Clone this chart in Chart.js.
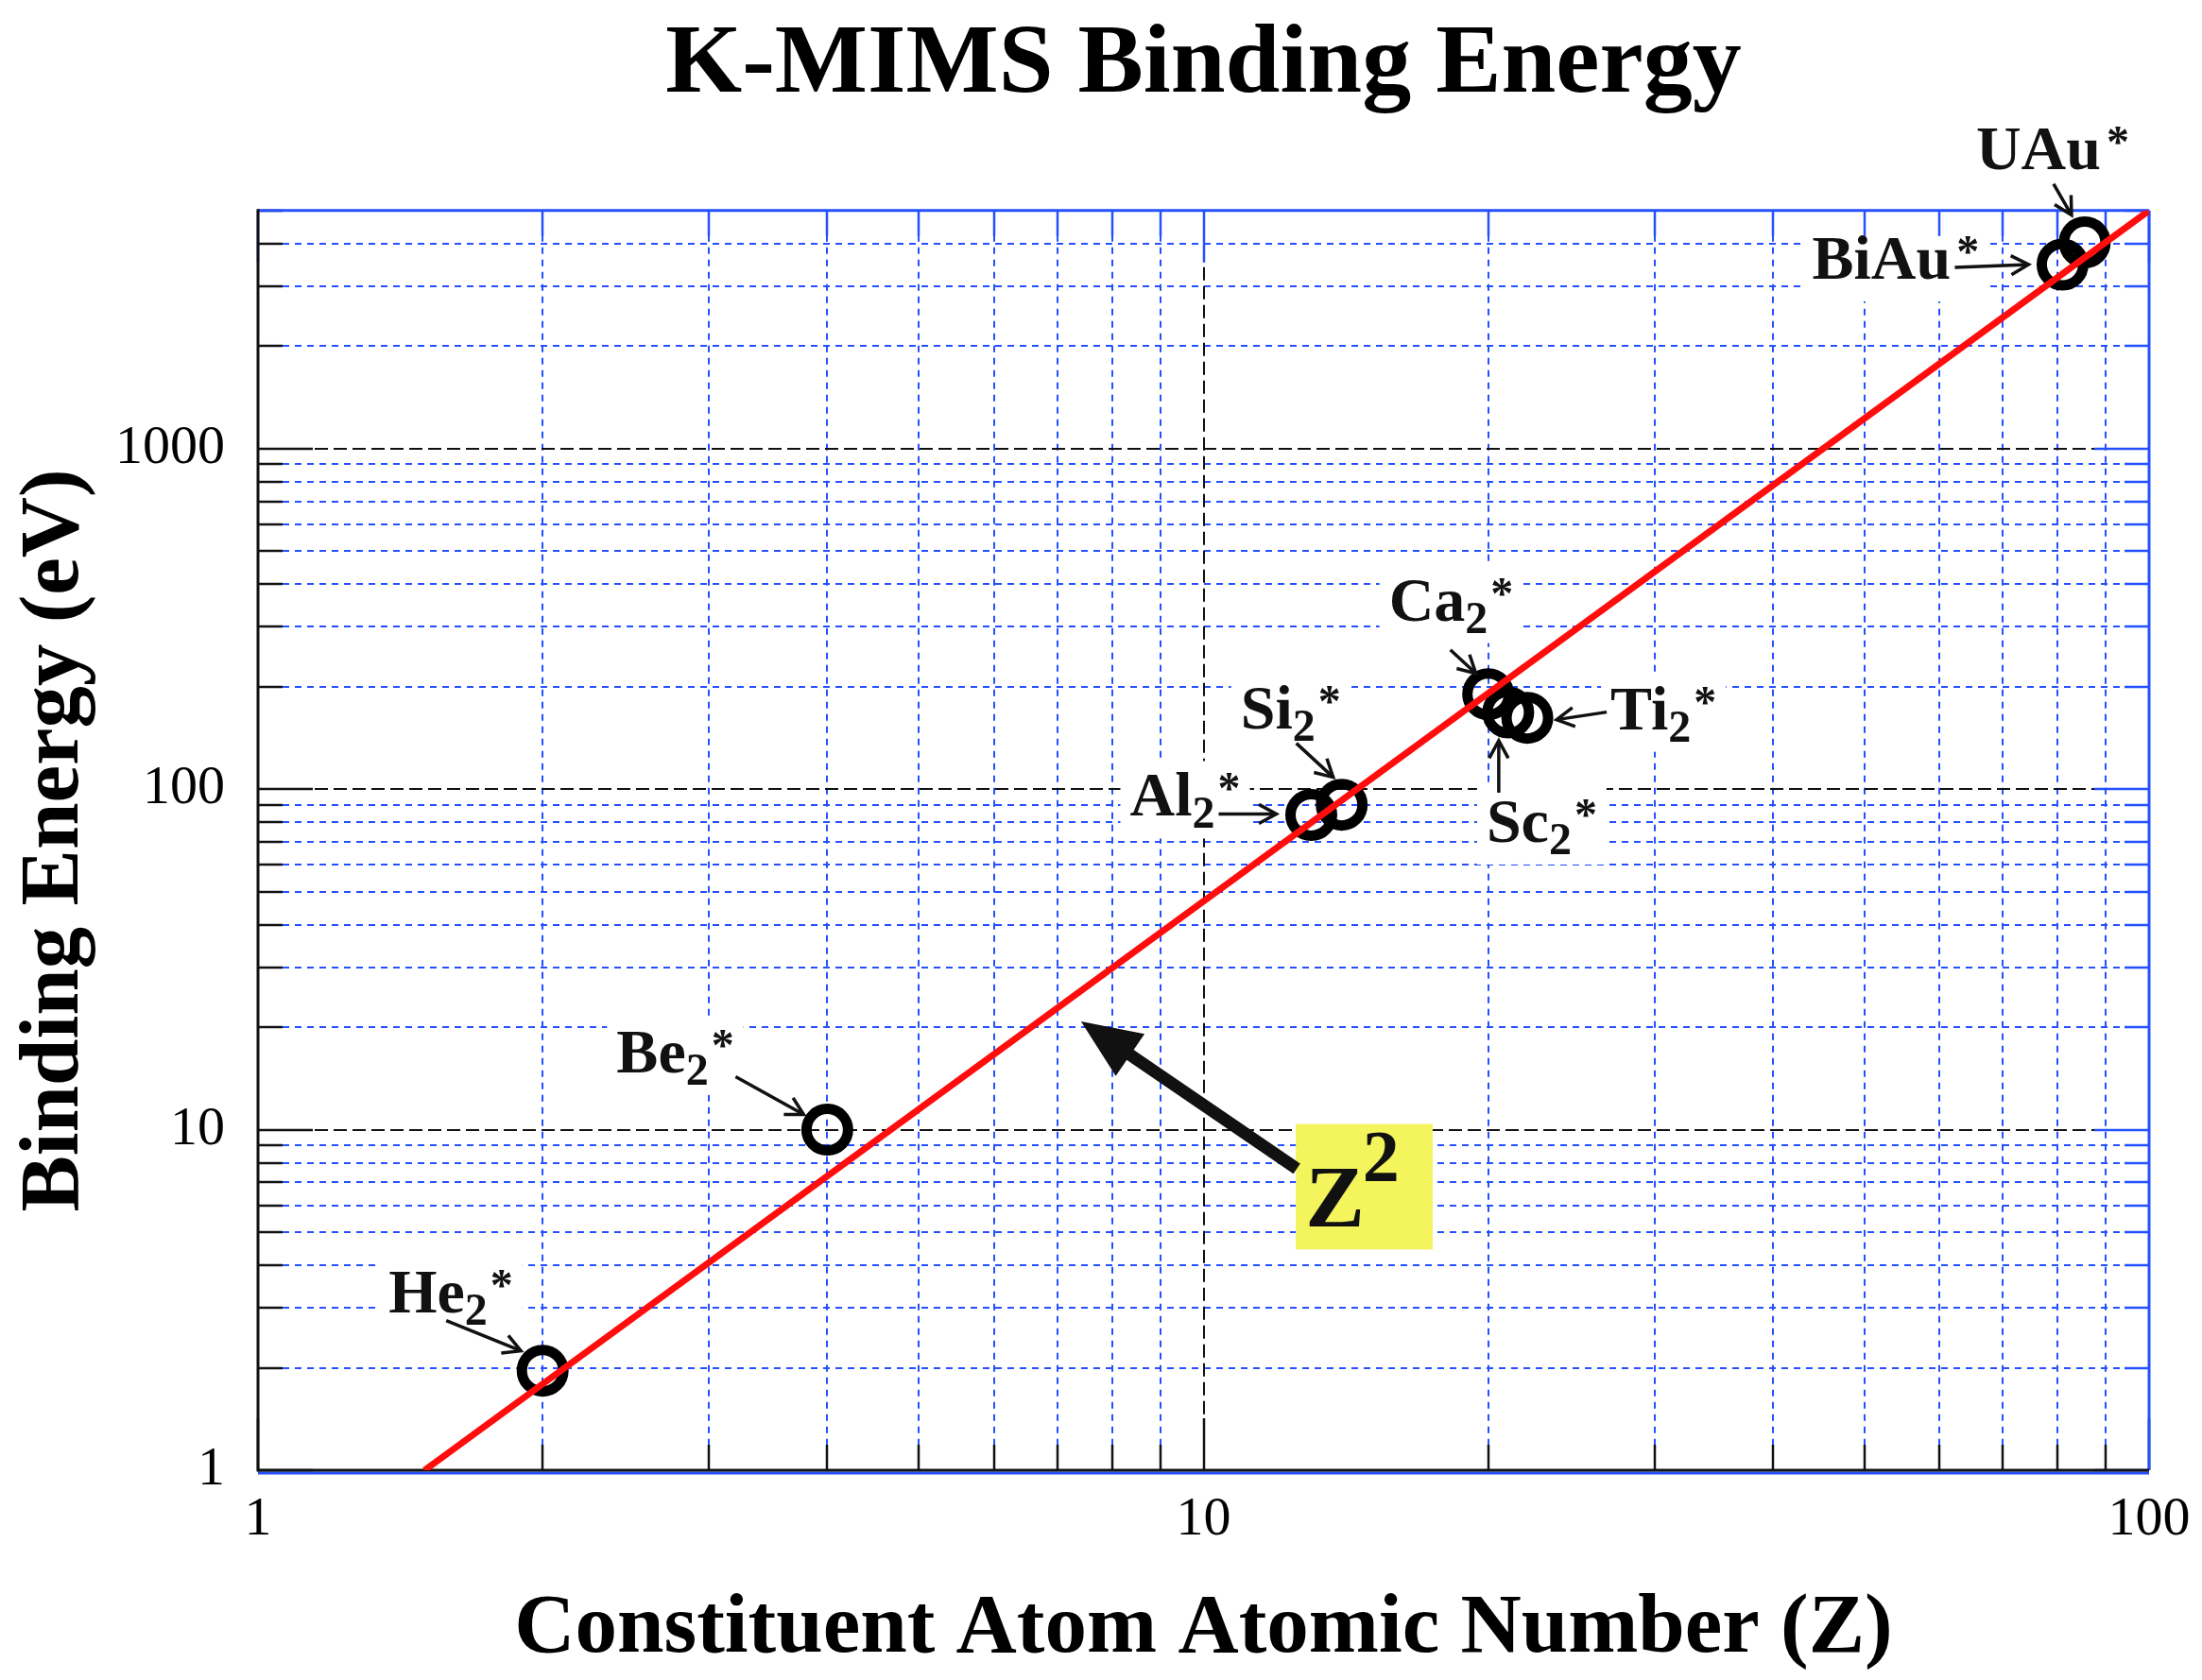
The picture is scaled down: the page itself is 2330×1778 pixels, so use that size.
<!DOCTYPE html>
<html>
<head>
<meta charset="utf-8">
<title>K-MIMS Binding Energy</title>
<script src="https://cdn.jsdelivr.net/npm/chart.js@4.4.1/dist/chart.umd.min.js"></script>
<style>
  html, body { margin: 0; padding: 0; background: #fff; }
  canvas { display: block; }
</style>
</head>
<body>
<canvas id="bindingChart" width="2330" height="1778"></canvas>
<script>
// data
const labelMain = ["He", "Be", "Al", "Si", "Ca", "Sc", "Ti", "BiAu", "UAu"];
const labelSub = ["2", "2", "2", "2", "2", "2", "2", "", ""];
const atomicNumber = [2, 4, 13, 14, 20, 21, 22, 81, 85.5];
const bindingEnergy = [1.96, 10, 84, 90, 190, 168, 162, 3470, 4030];

// Z^2 guide line end points
const fitZ = [1.5, 100];
const fitEnergy = [1, 5000];

// axis ticks
const xTickValues = [1, 2, 3, 4, 5, 6, 7, 8, 9, 10, 20, 30, 40, 50, 60, 70, 80, 90, 100];
const yTickValues = [1, 2, 3, 4, 5, 6, 7, 8, 9, 10, 20, 30, 40, 50, 60, 70, 80, 90,
  100, 200, 300, 400, 500, 600, 700, 800, 900, 1000, 2000, 3000, 4000, 5000];
const xTickLabels = [1, 10, 100];
const yTickLabels = [1, 10, 100, 1000];

// where each label sits relative to its circle (pixels): text origin, arrow start, arrow end
const labelLayout = [
  { dx: -163, dy: -62, ax: -102, ay: -53, bx: -23, by: -21 },
  { dx: -223, dy: -61, ax: -97, ay: -56, bx: -25, by: -16 },
  { dx: -192, dy: 1, ax: -98, ay: -1, bx: -37, by: -1 },
  { dx: -107, dy: -81, ax: -48, ay: -65, bx: -9, by: -29 },
  { dx: -105, dy: -78, ax: -40, ay: -47, bx: -13, by: -22 },
  { dx: -23, dy: 137, ax: -10, ay: 85, bx: -10, by: 30 },
  { dx: 88, dy: 12, ax: 84, ay: -6, bx: 31, by: 2 },
  { dx: -265, dy: 15, ax: -114, ay: 3, bx: -36, by: 0 },
  { dx: -115, dy: -78, ax: -33, ay: -62, bx: -14, by: -29 }
];

// Z^2 call-out, in data units
const zBox = { x0: 12.52, x1: 17.47, y0: 10.39, y1: 4.45 };
const zArrow = { fromX: 12.55, fromY: 7.68, toX: 7.42, toY: 20.8 };

const SERIF = "'Liberation Serif', 'Times New Roman', serif";
const BLUE = "#2450ff";
const INK = "#111";

function isDecade(v) {
  const l = Math.log10(v);
  return Math.abs(l - Math.round(l)) < 1e-9;
}

function seg(ctx, x0, y0, x1, y1) {
  ctx.beginPath();
  ctx.moveTo(x0, y0);
  ctx.lineTo(x1, y1);
  ctx.stroke();
}

function labelBox(chart, i) {
  const { ctx, scales: { x, y } } = chart;
  const px = x.getPixelForValue(atomicNumber[i]);
  const py = y.getPixelForValue(bindingEnergy[i]);
  const L = labelLayout[i];
  const lx = px + L.dx, ly = py + L.dy;
  ctx.save();
  ctx.font = "bold 66px " + SERIF;
  let w = ctx.measureText(labelMain[i]).width;
  ctx.font = "bold 48px " + SERIF;
  if (labelSub[i]) w += ctx.measureText(labelSub[i]).width + 3;
  else w += 6;
  w += ctx.measureText("*").width;
  ctx.restore();
  return { px, py, lx, ly, w, L };
}

function thinArrow(ctx, x0, y0, x1, y1) {
  const ang = Math.atan2(y1 - y0, x1 - x0);
  const hl = 21, sp = 0.5;
  ctx.lineWidth = 3.5;
  ctx.strokeStyle = INK;
  seg(ctx, x0, y0, x1, y1);
  ctx.beginPath();
  ctx.moveTo(x1 - hl * Math.cos(ang - sp), y1 - hl * Math.sin(ang - sp));
  ctx.lineTo(x1, y1);
  ctx.lineTo(x1 - hl * Math.cos(ang + sp), y1 - hl * Math.sin(ang + sp));
  ctx.stroke();
}

const gridPlugin = {
  id: "gridFrame",
  beforeDatasetsDraw(chart) {
    const { ctx, chartArea: a, scales: { x, y } } = chart;
    ctx.save();
    ctx.lineWidth = 2;

    // ➤ minor grid (blue dotted)
    ctx.strokeStyle = BLUE;
    ctx.setLineDash([7, 6]);
    x.ticks.forEach(t => {
      if (isDecade(t.value)) return;
      const p = Math.round(x.getPixelForValue(t.value));
      seg(ctx, p, a.top, p, a.bottom);
    });
    y.ticks.forEach(t => {
      if (isDecade(t.value) || t.value === y.max) return;
      const p = Math.round(y.getPixelForValue(t.value));
      seg(ctx, a.left, p, a.right, p);
    });

    // ➤ decade grid (black dashed)
    ctx.strokeStyle = INK;
    ctx.setLineDash([14, 6]);
    x.ticks.forEach(t => {
      if (!isDecade(t.value) || t.value === x.min || t.value === x.max) return;
      const p = Math.round(x.getPixelForValue(t.value));
      seg(ctx, p, a.top, p, a.bottom);
    });
    y.ticks.forEach(t => {
      if (!isDecade(t.value) || t.value === y.min) return;
      const p = Math.round(y.getPixelForValue(t.value));
      seg(ctx, a.left, p, a.right, p);
    });
    ctx.setLineDash([]);

    // ➤ white patches behind the labels
    ctx.fillStyle = "#fff";
    labelMain.forEach((_, i) => {
      const b = labelBox(chart, i);
      ctx.fillRect(b.lx - 10, b.ly - 58, b.w + 20, 82);
    });

    // ➤ ticks
    ctx.lineWidth = 2.5;
    y.ticks.forEach(t => {
      const p = Math.round(y.getPixelForValue(t.value));
      const len = isDecade(t.value) ? 58 : 26;
      ctx.strokeStyle = INK;
      seg(ctx, a.left, p, a.left + len, p);
      ctx.strokeStyle = BLUE;
      seg(ctx, a.right, p, a.right - len, p);
    });
    x.ticks.forEach(t => {
      const p = Math.round(x.getPixelForValue(t.value));
      const len = isDecade(t.value) ? 55 : 27;
      ctx.strokeStyle = INK;
      seg(ctx, p, a.bottom, p, a.bottom - len);
      ctx.strokeStyle = BLUE;
      seg(ctx, p, a.top, p, a.top + len);
    });

    // ➤ frame
    ctx.lineWidth = 3;
    ctx.strokeStyle = BLUE;
    seg(ctx, a.left, a.top, a.right, a.top);
    seg(ctx, a.right, a.top, a.right, a.bottom);
    seg(ctx, a.left, a.bottom + 3, a.right, a.bottom + 3);
    ctx.strokeStyle = INK;
    seg(ctx, a.left, a.top - 1.5, a.left, a.bottom + 1.5);
    seg(ctx, a.left, a.bottom, a.right, a.bottom);
    ctx.restore();
  },

  afterDatasetsDraw(chart) {
    const { ctx, scales: { x, y } } = chart;
    ctx.save();
    ctx.fillStyle = INK;
    ctx.textAlign = "left";
    ctx.textBaseline = "alphabetic";

    // ➤ point labels and pointers
    labelMain.forEach((main, i) => {
      const b = labelBox(chart, i);
      ctx.font = "bold 66px " + SERIF;
      ctx.fillText(main, b.lx, b.ly);
      let cx = b.lx + ctx.measureText(main).width;
      ctx.font = "bold 48px " + SERIF;
      if (labelSub[i]) {
        ctx.fillText(labelSub[i], cx, b.ly + 13);
        cx += ctx.measureText(labelSub[i]).width + 3;
      } else {
        cx += 6;
      }
      ctx.fillText("*", cx, b.ly - 13);
      thinArrow(ctx, b.px + b.L.ax, b.py + b.L.ay, b.px + b.L.bx, b.py + b.L.by);
    });

    // ➤ Z² call-out
    const bx0 = x.getPixelForValue(zBox.x0), bx1 = x.getPixelForValue(zBox.x1);
    const by0 = y.getPixelForValue(zBox.y0), by1 = y.getPixelForValue(zBox.y1);
    ctx.fillStyle = "#f4f45c";
    ctx.fillRect(bx0, by0, bx1 - bx0, by1 - by0);
    ctx.fillStyle = INK;
    ctx.font = "bold 94px " + SERIF;
    ctx.fillText("Z", bx0 + 10, by1 - 24);
    const zw = ctx.measureText("Z").width;
    ctx.font = "bold 78px " + SERIF;
    ctx.fillText("2", bx0 + 8 + zw, by1 - 72);

    // ➤ big arrow
    const fx = x.getPixelForValue(zArrow.fromX), fy = y.getPixelForValue(zArrow.fromY);
    const tx = x.getPixelForValue(zArrow.toX), ty = y.getPixelForValue(zArrow.toY);
    const ang = Math.atan2(ty - fy, tx - fx);
    const hl = 63, hw = 27;
    const baseX = tx - hl * Math.cos(ang), baseY = ty - hl * Math.sin(ang);
    ctx.strokeStyle = INK;
    ctx.lineWidth = 13;
    seg(ctx, fx, fy, baseX + 4 * Math.cos(ang), baseY + 4 * Math.sin(ang));
    ctx.beginPath();
    ctx.moveTo(tx, ty);
    ctx.lineTo(baseX + hw * Math.sin(ang), baseY - hw * Math.cos(ang));
    ctx.lineTo(baseX - hw * Math.sin(ang), baseY + hw * Math.cos(ang));
    ctx.closePath();
    ctx.fill();
    ctx.restore();
  }
};

const ctx = document.getElementById("bindingChart").getContext("2d");
new Chart(ctx, {
  type: "scatter",
  data: {
    datasets: [
      {
        label: "Z²",
        data: fitZ.map((z, i) => ({ x: z, y: fitEnergy[i] })),
        showLine: true,
        borderColor: "#ff0d0d",
        borderWidth: 7,
        pointRadius: 0,
        pointHoverRadius: 0
      },
      {
        label: "Binding energy",
        data: atomicNumber.map((z, i) => ({ x: z, y: bindingEnergy[i] })),
        showLine: false,
        pointStyle: "circle",
        pointRadius: 22,
        pointHoverRadius: 22,
        pointBorderWidth: 11,
        pointHoverBorderWidth: 11,
        borderColor: "#000",
        backgroundColor: "rgba(0,0,0,0)"
      }
    ]
  },
  options: {
    responsive: false,
    animation: false,
    devicePixelRatio: 1,
    layout: { padding: { left: 0, right: 56, top: 0, bottom: 0 } },
    events: [],
    plugins: {
      legend: { display: false },
      tooltip: { enabled: false },
      title: {
        display: true,
        text: "K-MIMS Binding Energy",
        fullSize: false,
        color: "#000",
        font: { family: SERIF, size: 104, weight: "bold" },
        padding: { top: 8, bottom: 90 }
      }
    },
    scales: {
      x: {
        type: "logarithmic",
        min: 1,
        max: 100,
        afterBuildTicks: s => { s.ticks = xTickValues.map(v => ({ value: v })); },
        afterFit: s => { s.height = 222; s.paddingRight = 0; s.paddingLeft = 0; },
        grid: { display: false, drawTicks: false },
        border: { display: false },
        ticks: {
          autoSkip: false,
          maxRotation: 0,
          minRotation: 0,
          padding: 18,
          color: "#000",
          font: { family: SERIF, size: 58 },
          callback: v => xTickLabels.includes(v) ? String(v) : ""
        },
        title: {
          display: true,
          text: "Constituent Atom Atomic Number (Z)",
          color: "#000",
          font: { family: SERIF, size: 89, weight: "bold" },
          padding: { top: 0, bottom: 0 }
        }
      },
      y: {
        type: "logarithmic",
        min: 1,
        max: 5000,
        afterBuildTicks: s => { s.ticks = yTickValues.map(v => ({ value: v })); },
        afterFit: s => { s.width = 273; },
        grid: { display: false, drawTicks: false },
        border: { display: false },
        ticks: {
          autoSkip: false,
          padding: 35,
          color: "#000",
          font: { family: SERIF, size: 58 },
          callback: v => yTickLabels.includes(v) ? String(v) : ""
        },
        title: {
          display: true,
          text: "Binding Energy (eV)",
          color: "#000",
          font: { family: SERIF, size: 89, weight: "bold" },
          padding: { top: 6, bottom: 0 }
        }
      }
    }
  },
  plugins: [gridPlugin]
});
</script>
</body>
</html>
